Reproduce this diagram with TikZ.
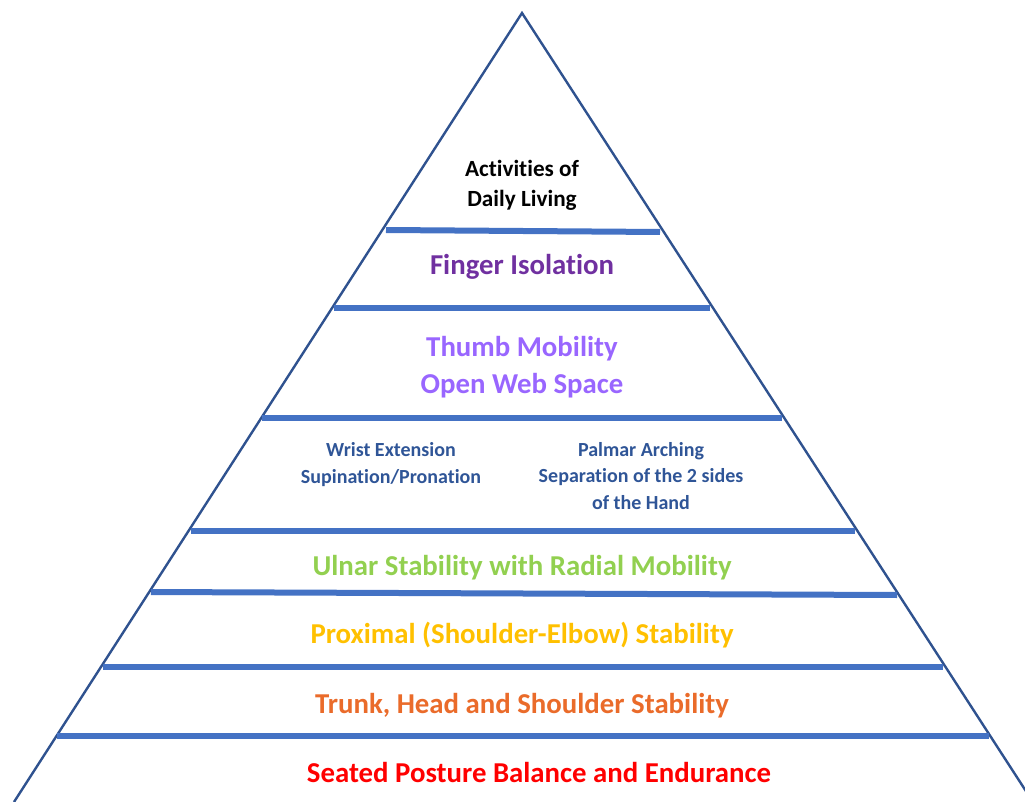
\documentclass[tikz,border=0pt]{standalone}
\usepackage{fontspec}
\setmainfont{Carlito}[Ligatures=NoCommon]
\definecolor{edgeblue}{HTML}{2F528F}
\definecolor{barblue}{HTML}{4472C4}
\definecolor{darkblue}{HTML}{2F5597}
\definecolor{deeppurple}{HTML}{7030A0}
\definecolor{lightpurple}{HTML}{9966FF}
\definecolor{leafgreen}{HTML}{92D050}
\definecolor{gold}{HTML}{FFC000}
\definecolor{burnt}{HTML}{EA6B2A}
\begin{document}
\begin{tikzpicture}[x=1pt,y=-1pt,
  edge/.style={draw=edgeblue,line width=2.4pt,line join=miter},
  bar/.style={draw=barblue,line width=6pt},
  % multi-line labels are placed by the baseline of their last line
  lbl/.style={anchor=base,font=\bfseries,inner sep=0pt,align=center},
  biglbl/.style={lbl,font=\bfseries\fontsize{28.8}{37}\selectfont},
  rowlbl/.style={lbl,font=\bfseries\fontsize{28.8}{34}\selectfont},
  smalllbl/.style={lbl,font=\bfseries\fontsize{20}{26.5}\selectfont,text=darkblue},
]
\useasboundingbox (0,0) rectangle (1025,802);
\clip (0,0) rectangle (1025,802);

% outline of the pyramid
\draw[edge] (14,802) -- (522,13) -- (1033,802);

% layer dividers
\draw[bar] (386,230) -- (660,232);
\draw[bar] (334,308) -- (710,308);
\draw[bar] (262,418) -- (782,418);
\draw[bar] (191,531) -- (855,531);
\draw[bar] (151,592) -- (897,595);
\draw[bar] (103,667) -- (943,667);
\draw[bar] (57,736) -- (989,736);

% layer labels, top to bottom
\node[lbl,font=\bfseries\fontsize{23.2}{30}\selectfont] (adl) at (522,207) {Activities of\\Daily Living};
\node[biglbl,text=deeppurple] (finger) at (522,275) {Finger Isolation};
\node[biglbl,text=lightpurple] (thumb) at (522,393) {Thumb Mobility\\Open Web Space};
\node[smalllbl] (wrist) at (391,483) {Wrist Extension\\Supination/Pronation};
\node[smalllbl] (palmar) at (641,509) {Palmar Arching\\Separation of the 2 sides\\of the Hand};
\node[rowlbl,text=leafgreen] (ulnar) at (522,575) {Ulnar Stability with Radial Mobility};
\node[rowlbl,text=gold] (proximal) at (522,643) {Proximal (Shoulder-Elbow) Stability};
\node[rowlbl,text=burnt] (trunk) at (522,713) {Trunk, Head and Shoulder Stability};
\node[rowlbl,text=red] (seated) at (539,782) {Seated Posture Balance and Endurance};
\end{tikzpicture}
\end{document}
